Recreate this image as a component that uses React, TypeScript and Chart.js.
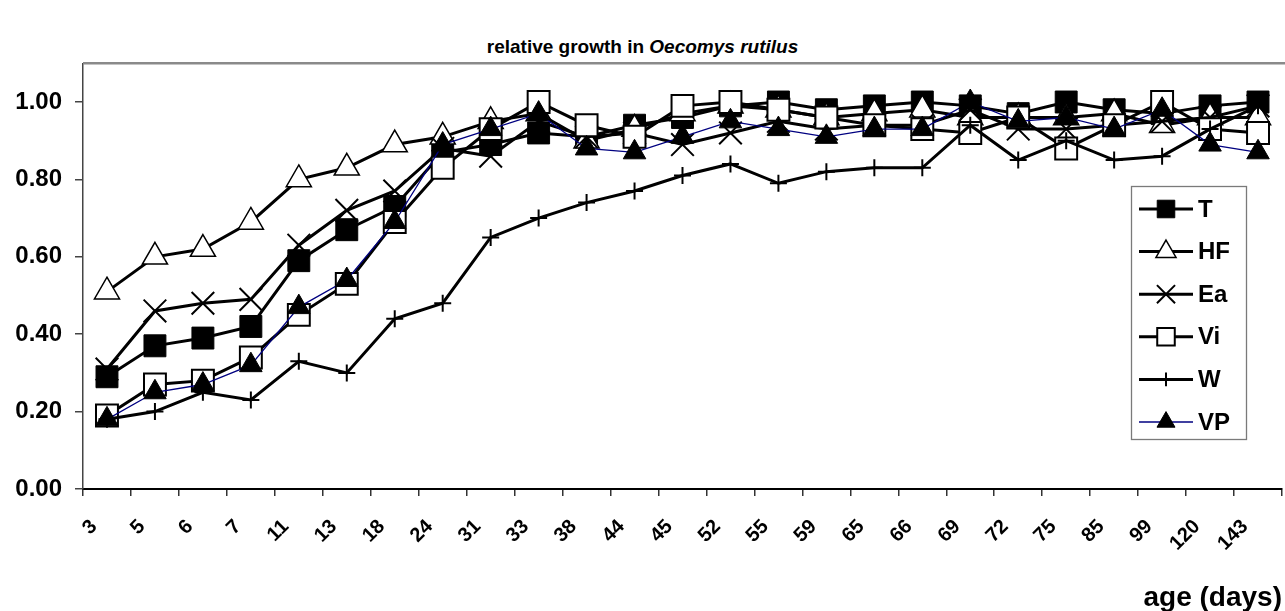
import React, { useEffect, useRef } from 'react';
import { Chart, registerables } from 'chart.js';
import { drawPoint } from 'chart.js/helpers';

Chart.register(...registerables);

// ---- data ----
const ages = ['3', '5', '6', '7', '11', '13', '18', '24', '31', '33', '38', '44', '45', '52', '55', '59', '65', '66', '69', '72', '75', '85', '99', '120', '143'];
const seriesT = [0.29, 0.37, 0.39, 0.42, 0.59, 0.67, 0.73, 0.87, 0.89, 0.92, 0.91, 0.94, 0.96, 0.99, 1.0, 0.98, 0.99, 1.0, 0.99, 0.97, 1.0, 0.98, 0.97, 0.99, 1.0];
const seriesHF = [0.51, 0.6, 0.62, 0.69, 0.8, 0.83, 0.89, 0.91, 0.95, 0.97, 0.9, 0.93, 0.97, 0.99, 0.98, 0.96, 0.97, 0.98, 0.96, 0.96, 0.96, 0.97, 0.94, 0.96, 0.96];
const seriesEa = [0.31, 0.46, 0.48, 0.49, 0.63, 0.72, 0.77, 0.88, 0.86, 0.95, 0.91, 0.92, 0.89, 0.92, 0.95, 0.93, 0.94, 0.94, 0.98, 0.93, 0.93, 0.94, 0.95, 0.96, 0.99];
const seriesVi = [0.19, 0.27, 0.28, 0.34, 0.45, 0.53, 0.69, 0.83, 0.93, 1.0, 0.94, 0.91, 0.99, 1.0, 0.98, 0.96, 0.94, 0.93, 0.92, 0.96, 0.88, 0.94, 1.0, 0.93, 0.92];
const seriesW = [0.18, 0.2, 0.25, 0.23, 0.33, 0.3, 0.44, 0.48, 0.65, 0.7, 0.74, 0.77, 0.81, 0.84, 0.79, 0.82, 0.83, 0.83, 0.94, 0.85, 0.9, 0.85, 0.86, 0.93, 0.99];
const seriesVP = [0.18, 0.25, 0.27, 0.32, 0.47, 0.54, 0.69, 0.89, 0.93, 0.97, 0.88, 0.87, 0.91, 0.95, 0.93, 0.91, 0.93, 0.93, 1.0, 0.95, 0.96, 0.93, 0.98, 0.89, 0.87];

const FONT = '"Liberation Sans", Arial, Helvetica, sans-serif';

const topBorderPlugin = {
  id: 'topBorder',
  beforeDatasetsDraw(chart: any) {
    const { ctx, chartArea } = chart;
    ctx.save();
    ctx.strokeStyle = '#8a8a8a';
    ctx.lineWidth = 2.5;
    ctx.beginPath();
    ctx.moveTo(chartArea.left, chartArea.top);
    ctx.lineTo(chartArea.right + 10, chartArea.top);
    ctx.stroke();
    ctx.restore();
  },
};

const legendPlugin = {
  id: 'boxLegend',
  afterDraw(chart: any) {
    const ctx = chart.ctx;
    ctx.save();
    const bx = 1131.5, by = 186.5, bw = 115, bh = 253;
    ctx.fillStyle = '#ffffff';
    ctx.fillRect(bx, by, bw, bh);
    ctx.strokeStyle = '#7a7a7a';
    ctx.lineWidth = 1.3;
    ctx.strokeRect(bx, by, bw, bh);
    chart.data.datasets.forEach((ds: any, i: number) => {
      const y = 209 + i * 42.6;
      ctx.strokeStyle = ds.borderColor;
      ctx.lineWidth = ds.borderWidth;
      ctx.beginPath();
      ctx.moveTo(1139, y);
      ctx.lineTo(1193, y);
      ctx.stroke();
      ctx.fillStyle = ds.pointBackgroundColor;
      ctx.strokeStyle = ds.pointBorderColor;
      ctx.lineWidth = ds.pointBorderWidth;
      drawPoint(ctx, { pointStyle: ds.pointStyle, radius: ds.pointRadius * 0.8, rotation: 0, borderWidth: ds.pointBorderWidth } as any, 1166, y);
      ctx.fillStyle = '#000';
      ctx.font = `bold 24px ${FONT}`;
      ctx.textBaseline = 'middle';
      ctx.textAlign = 'left';
      ctx.fillText(ds.label, 1198, y + 1);
    });
    ctx.restore();
  },
};

export default function App() {
  const ref = useRef<HTMLCanvasElement>(null);

  useEffect(() => {
    if (!ref.current) return;
    const mk = (label: string, data: number[], o: any) => ({
      label,
      data,
      borderColor: '#000',
      borderWidth: 3,
      tension: 0,
      pointRotation: 0,
      pointHoverRadius: o.pointRadius,
      ...o,
    });
    const chart = new Chart(ref.current, {
      type: 'line',
      data: {
        labels: ages,
        datasets: [
          mk('T', seriesT, { order: 6, pointStyle: 'rect', pointRadius: 15.5, pointBackgroundColor: '#000', pointBorderColor: '#000', pointBorderWidth: 1 }),
          mk('HF', seriesHF, { order: 5, pointStyle: 'triangle', pointRadius: 14.5, pointBackgroundColor: '#fff', pointBorderColor: '#000', pointBorderWidth: 1.5 }),
          mk('Ea', seriesEa, { order: 4, pointStyle: 'crossRot', pointRadius: 16, pointBackgroundColor: '#000', pointBorderColor: '#000', pointBorderWidth: 2 }),
          mk('Vi', seriesVi, { order: 3, pointStyle: 'rect', pointRadius: 15.5, pointBackgroundColor: '#fff', pointBorderColor: '#000', pointBorderWidth: 2 }),
          mk('W', seriesW, { order: 2, pointStyle: 'cross', pointRadius: 8.5, pointBackgroundColor: '#000', pointBorderColor: '#000', pointBorderWidth: 2 }),
          mk('VP', seriesVP, { order: 1, borderColor: '#000080', borderWidth: 1.3, pointStyle: 'triangle', pointRadius: 13, pointBackgroundColor: '#000', pointBorderColor: '#000', pointBorderWidth: 1 }),
        ],
      },
      options: {
        animation: false,
        responsive: true,
        maintainAspectRatio: false,
        events: [],
        layout: { padding: { top: 63.3, right: 7.5, left: 0, bottom: 0 } },
        plugins: {
          legend: { display: false },
          title: { display: false },
          tooltip: { enabled: false },
        },
        scales: {
          x: {
            type: 'category',
            offset: true,
            border: { display: true, color: '#000', width: 2 },
            grid: { display: true, drawOnChartArea: false, drawTicks: true, tickLength: 7, offset: true, color: '#333', lineWidth: 1.5 },
            ticks: {
              autoSkip: false,
              maxRotation: 45,
              minRotation: 45,
              labelOffset: -13,
              padding: 19,
              color: '#000',
              font: { family: FONT, size: 20, weight: 'bold' },
            },
            afterFit: (s: any) => { s.height = 122; },
          },
          y: {
            type: 'linear',
            min: 0,
            max: 1.1,
            border: { display: true, color: '#444', width: 1.5 },
            grid: { display: true, drawOnChartArea: false, drawTicks: true, tickLength: 8, color: '#444', lineWidth: 1.5 },
            ticks: {
              stepSize: 0.2,
              includeBounds: false,
              padding: 13,
              color: '#000',
              font: { family: FONT, size: 24, weight: 'bold' },
              callback: (v: any) => Number(v).toFixed(2),
            },
            afterFit: (s: any) => { s.width = 83; },
          },
        },
      } as any,
      plugins: [topBorderPlugin, legendPlugin],
    });
    return () => chart.destroy();
  }, []);

  return (
    <div style={{ position: 'absolute', left: 0, top: 0, width: 1285, height: 611, overflow: 'hidden', background: '#fff' }}>
      <div
        style={{
          position: 'absolute', left: 0, top: 36, width: 1285, textAlign: 'center',
          fontFamily: FONT, fontWeight: 'bold', fontSize: 19, lineHeight: '22px', color: '#000',
        }}
      >
        relative growth in <i>Oecomys rutilus</i>
      </div>
      <div style={{ position: 'absolute', left: 0, top: 0, width: 1300, height: 611 }}>
        <canvas ref={ref} />
      </div>
      <div
        style={{
          position: 'absolute', right: 3, top: 583, fontFamily: FONT, fontWeight: 'bold',
          fontSize: 28, lineHeight: '28px', color: '#000', whiteSpace: 'nowrap',
        }}
      >
        age (days)
      </div>
    </div>
  );
}
